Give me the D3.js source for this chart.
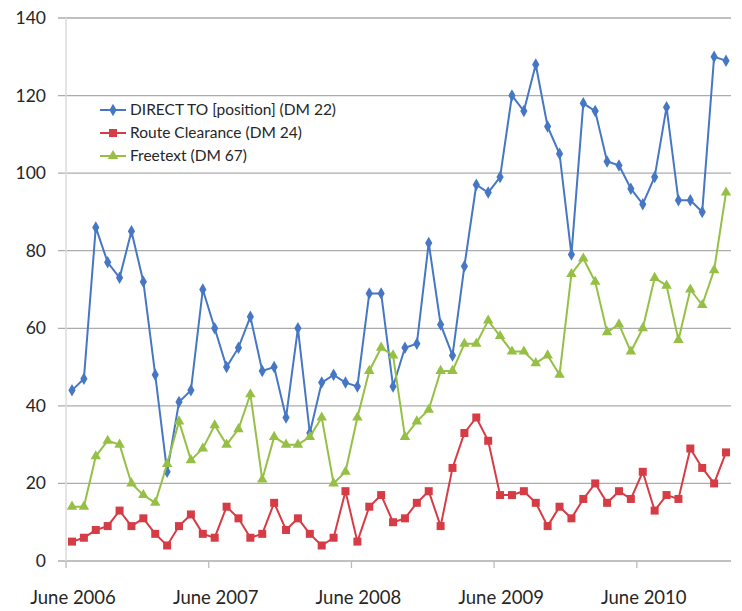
<!DOCTYPE html>
<head>
    <title>DM usage</title>
    <style>
        body{ margin: 0; background: #fff; }
        svg{ display: block; }
        text{ font-family: "Lato", "Open Sans", sans-serif; fill: #262626; }
    </style>
    <script src="https://d3js.org/d3.v7.min.js"></script>
</head>
<body>
    <svg width="742" height="611"></svg>

    <script>
        // Monatswerte Juni 2006 .. Januar 2011
        var directTo = [44,47,86,77,73,85,72,48,23,41,44,70,60,50,55,63,49,50,37,60,33,46,48,46,45,69,69,45,55,56,82,61,53,76,97,95,99,120,116,128,112,105,79,118,116,103,102,96,92,99,117,93,93,90,130,129];
        var routeClearance = [5,6,8,9,13,9,11,7,4,9,12,7,6,14,11,6,7,15,8,11,7,4,6,18,5,14,17,10,11,15,18,9,24,33,37,31,17,17,18,15,9,14,11,16,20,15,18,16,23,13,17,16,29,24,20,28];
        var freetext = [14,14,27,31,30,20,17,15,25,36,26,29,35,30,34,43,21,32,30,30,32,37,20,23,37,49,55,53,32,36,39,49,49,56,56,62,58,54,54,51,53,48,74,78,72,59,61,54,60,73,71,57,70,66,75,95];
        var seriesNames = ["DIRECT TO [position] (DM 22)", "Route Clearance (DM 24)", "Freetext (DM 67)"];
        var tickLabels = ["June 2006", "June 2007", "June 2008", "June 2009", "June 2010"];
        var yTicks = [0,20,40,60,80,100,120,140];

        var fmt = d3.timeFormat("%Y-%m");
        var months = d3.timeMonth.range(new Date(2006,5,1), new Date(2011,1,1)).map(fmt);

        var svg = d3.select("svg");
        var x = d3.scalePoint().domain(months).range([72, 726]);
        var step = x.step();
        var y = d3.scaleLinear().domain([0,140]).range([561, 18]);

        // Gitterlinien
        svg.append("g").selectAll("line").data(yTicks).join("line")
            .attr("x1", 58).attr("x2", 731)
            .attr("y1", d => y(d)).attr("y2", d => y(d))
            .attr("stroke", "#acacac").attr("stroke-width", 1.3);

        // senkrechte Achse
        svg.append("line")
            .attr("x1", x(months[0]) - step/2).attr("x2", x(months[0]) - step/2)
            .attr("y1", y(140)).attr("y2", y(0))
            .attr("stroke", "#dcdcdc").attr("stroke-width", 1.5);

        // Y-Beschriftung
        svg.append("g").selectAll("text").data(yTicks).join("text")
            .attr("x", 46).attr("y", d => y(d) + 6)
            .attr("text-anchor", "end")
            .style("font-size", "17.5px")
            .text(d => d);

        // X-Achse mit Strichen zwischen den Kategorien
        var tickMonths = tickLabels.map((t, i) => months[i*12]);
        svg.append("g").selectAll("line").data(tickMonths).join("line")
            .attr("x1", d => x(d) - step/2).attr("x2", d => x(d) - step/2)
            .attr("y1", y(0)).attr("y2", y(0) + 7)
            .attr("stroke", "#bbb").attr("stroke-width", 1.3);
        svg.append("g").selectAll("text").data(tickMonths).join("text")
            .attr("x", d => x(d) + 1).attr("y", 604)
            .attr("text-anchor", "middle")
            .style("font-size", "18.5px")
            .text((d, i) => tickLabels[i]);

        var series = [
            {name: seriesNames[0], values: directTo, color: "#4677c4", marker: d3.symbolDiamond, size: 45},
            {name: seriesNames[1], values: routeClearance, color: "#d63c45", marker: d3.symbolSquare, size: 64},
            {name: seriesNames[2], values: freetext, color: "#96c045", marker: d3.symbolTriangle, size: 48}
        ];

        var line = d3.line().x((d, i) => x(months[i])).y(d => y(d));

        series.forEach(function(s){
            svg.append("path")
                .attr("d", line(s.values))
                .attr("fill", "none")
                .attr("stroke", s.color)
                .attr("stroke-width", 2);
            svg.append("g").selectAll("path").data(s.values).join("path")
                .attr("transform", (d, i) => "translate(" + x(months[i]) + "," + y(d) + ")")
                .attr("d", d3.symbol().type(s.marker).size(s.size))
                .attr("fill", s.color);
        });

        // Legende
        var leg = svg.append("g").attr("transform", "translate(100,110)");
        series.forEach(function(s, i){
            var g = leg.append("g").attr("transform", "translate(0," + (i*23) + ")");
            g.append("line").attr("x1", 0).attr("x2", 26)
                .attr("stroke", s.color).attr("stroke-width", 2);
            g.append("path").attr("transform", "translate(13,0)")
                .attr("d", d3.symbol().type(s.marker).size(s.size))
                .attr("fill", s.color);
            g.append("text").attr("x", 30).attr("y", 5)
                .style("font-size", "15.5px")
                .text(s.name);
        });
    </script>
</body>
</html>
